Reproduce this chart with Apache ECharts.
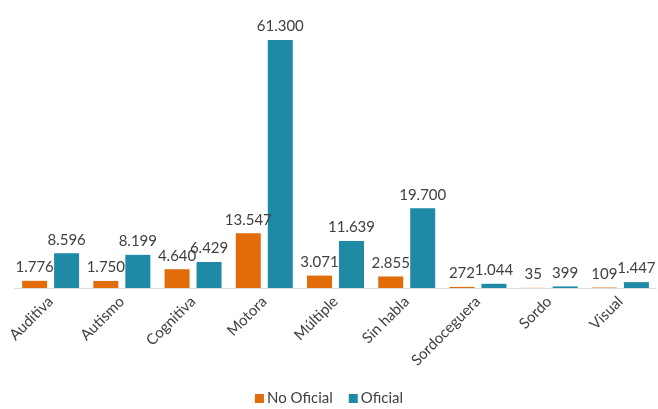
<!DOCTYPE html>
<html>
<head>
<meta charset="utf-8">
<script src="https://cdn.jsdelivr.net/npm/echarts@6/dist/echarts.min.js"></script>
<style>
	html, body { margin: 0; padding: 0; background: #fff; }
	#chart { width: 658px; height: 409px; }
</style>
</head>
<body>
<div id="chart"></div>
<script>
	var categories = ['Auditiva', 'Autismo', 'Cognitiva', 'Motora', 'Múltiple', 'Sin habla', 'Sordoceguera', 'Sordo', 'Visual'];
	var noOficial = [1776, 1750, 4640, 13547, 3071, 2855, 272, 35, 109];
	var oficial = [8596, 8199, 6429, 61300, 11639, 19700, 1044, 399, 1447];

	// separador de miles con punto
	function fmt(v) {
		return String(v).replace(/\B(?=(\d{3})+(?!\d))/g, '.');
	}

	var font = 'Lato';
	var chart = echarts.init(document.getElementById('chart'));
	chart.setOption({
		color: ['#E36C0A', '#1F8AA5'],
		textStyle: { fontFamily: font },
		legend: {
			bottom: -2,
			left: 'center',
			itemWidth: 9,
			itemHeight: 9,
			itemGap: 16,
			icon: 'rect',
			textStyle: { color: '#404040', fontSize: 15, fontFamily: font, padding: [0, 0, 0, -2] },
			data: ['No Oficial', 'Oficial']
		},
		grid: {
			left: 15,
			right: 2,
			top: 40,
			bottom: 121,
			containLabel: false
		},
		xAxis: {
			type: 'category',
			data: categories,
			axisTick: { show: false },
			axisLine: { show: true, lineStyle: { color: '#D9D9D9', width: 1 } },
			axisLabel: {
				interval: 0,
				rotate: 45,
				margin: 11,
				color: '#404040',
				fontSize: 15,
				fontFamily: font
			}
		},
		yAxis: {
			type: 'value',
			show: false,
			min: 0,
			max: 61300,
			splitLine: { show: false }
		},
		series: [{
			name: 'No Oficial',
			type: 'bar',
			barWidth: 25,
			barGap: '28%',
			label: {
				show: true,
				position: 'top',
				distance: 6,
				color: '#404040',
				fontSize: 15,
				fontFamily: font,
				formatter: function(p) { return fmt(p.value); }
			},
			data: noOficial
		}, {
			name: 'Oficial',
			type: 'bar',
			barWidth: 25,
			barGap: '28%',
			label: {
				show: true,
				position: 'top',
				distance: 6,
				color: '#404040',
				fontSize: 15,
				fontFamily: font,
				formatter: function(p) { return fmt(p.value); }
			},
			data: oficial
		}]
	});
</script>
</body>
</html>
